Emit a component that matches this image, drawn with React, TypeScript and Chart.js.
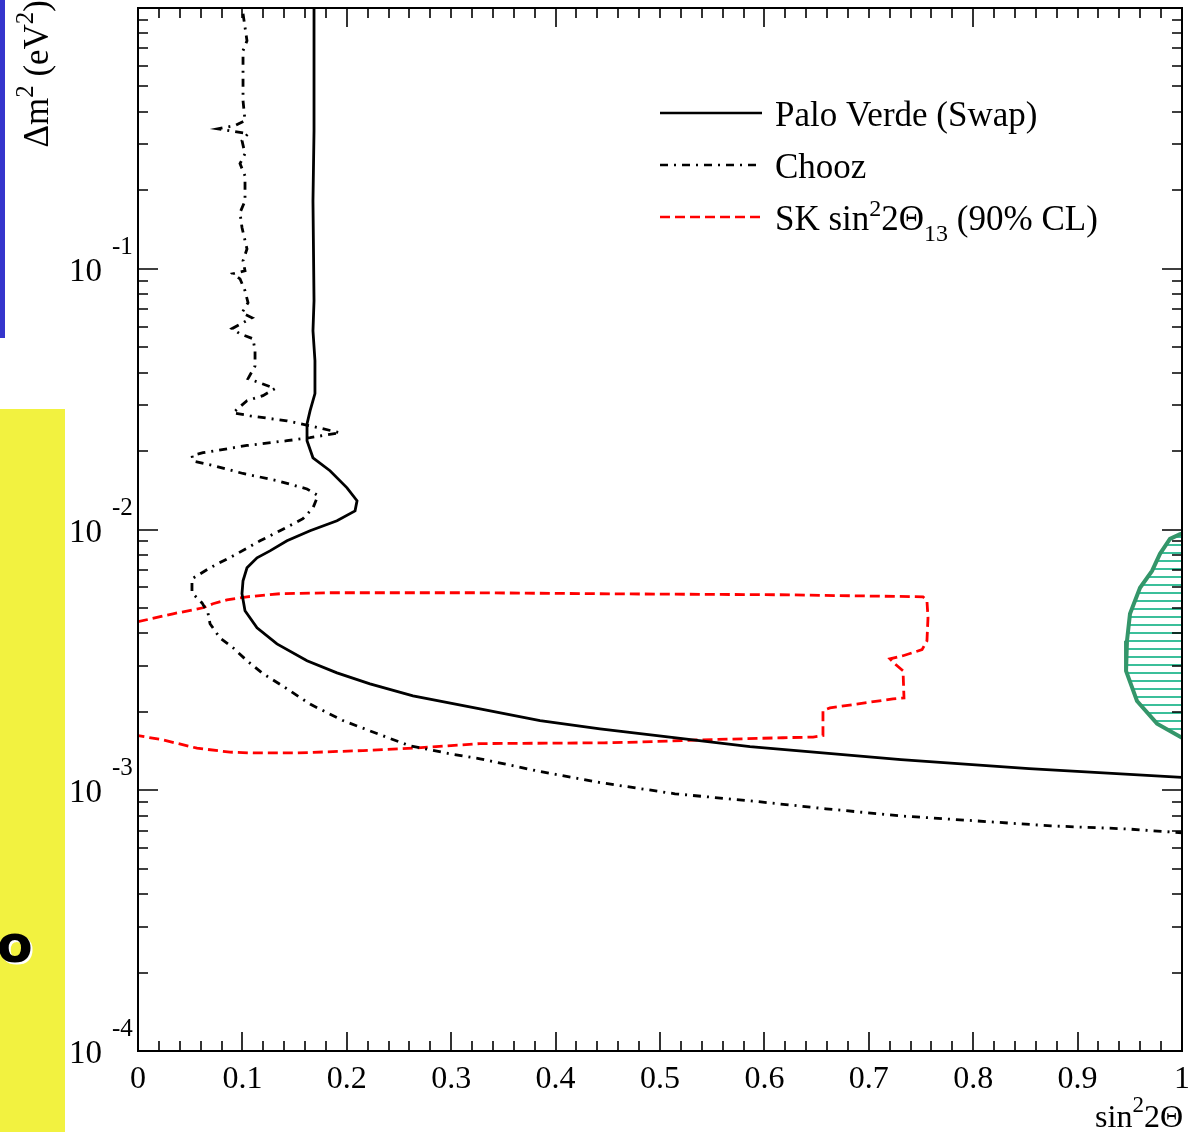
import React, { useEffect, useRef } from 'react';
import { Chart, registerables } from 'chart.js';

Chart.register(...registerables);

// ---------- data (sin^2 2Θ, Δm^2 in eV^2) ----------
const PALO_VERDE_X = [0.1686, 0.1686, 0.1676, 0.1686, 0.1676, 0.1695, 0.1695, 0.1648, 0.1619, 0.1619, 0.1676, 0.1839, 0.2002, 0.2098, 0.2079, 0.1906, 0.1648, 0.1427, 0.1264, 0.114, 0.1044, 0.1006, 0.0996, 0.1025, 0.114, 0.1331, 0.1619, 0.1906, 0.2222, 0.2634, 0.3276, 0.3851, 0.4425, 0.5862, 0.7308, 0.8535, 1.0];
const PALO_VERDE_Y = [1.0, 0.338, 0.182, 0.0754, 0.0578, 0.0444, 0.0332, 0.0285, 0.0254, 0.0219, 0.01884, 0.0168, 0.01445, 0.01289, 0.01179, 0.0108, 0.00989, 0.00905, 0.00828, 0.00779, 0.00713, 0.00636, 0.00567, 0.00488, 0.0042, 0.00364, 0.00314, 0.00282, 0.00256, 0.0023, 0.00205, 0.00185, 0.00172, 0.00147, 0.00131, 0.00121, 0.00112];

const CHOOZ_X = [0.1006, 0.1044, 0.1006, 0.1006, 0.1025, 0.0929, 0.0766, 0.1054, 0.0996, 0.1025, 0.0977, 0.1025, 0.1025, 0.0977, 0.0996, 0.1044, 0.1006, 0.1025, 0.091, 0.0977, 0.1025, 0.1054, 0.0996, 0.1092, 0.09, 0.0977, 0.1102, 0.1121, 0.1121, 0.1054, 0.1169, 0.1312, 0.1197, 0.1044, 0.091, 0.1073, 0.1427, 0.1648, 0.1935, 0.1648, 0.1427, 0.1044, 0.0623, 0.0517, 0.0527, 0.0718, 0.1006, 0.1331, 0.1619, 0.1724, 0.1676, 0.158, 0.136, 0.1169, 0.0948, 0.069, 0.0517, 0.0517, 0.0613, 0.067, 0.069, 0.0785, 0.091, 0.1044, 0.1197, 0.1427, 0.1648, 0.1964, 0.2289, 0.2605, 0.2989, 0.3276, 0.3851, 0.4425, 0.5144, 0.5862, 0.659, 0.7308, 0.8027, 0.8745, 0.9464, 1.0];
const CHOOZ_Y = [0.951, 0.749, 0.686, 0.441, 0.37, 0.354, 0.344, 0.33, 0.31, 0.276, 0.253, 0.227, 0.182, 0.164, 0.144, 0.119, 0.1073, 0.0982, 0.0957, 0.0915, 0.0823, 0.0741, 0.0678, 0.0649, 0.0589, 0.0563, 0.0539, 0.0485, 0.0424, 0.0379, 0.0365, 0.0347, 0.0326, 0.0312, 0.028, 0.0273, 0.0261, 0.025, 0.0235, 0.0225, 0.0219, 0.021, 0.0197, 0.0192, 0.0183, 0.0176, 0.0164, 0.0154, 0.0143, 0.0135, 0.0121, 0.011, 0.00989, 0.00905, 0.00807, 0.00713, 0.00647, 0.00572, 0.00523, 0.00479, 0.00435, 0.00384, 0.00352, 0.00314, 0.0028, 0.00245, 0.00214, 0.00185, 0.00165, 0.00148, 0.00138, 0.00132, 0.00118, 0.00107, 0.000969, 0.000911, 0.000849, 0.000797, 0.000763, 0.00073, 0.000711, 0.000687];

const SK_X = [0, 0.0335, 0.0623, 0.0718, 0.0852, 0.1044, 0.136, 0.1839, 0.2481, 0.3247, 0.4425, 0.6149, 0.7519, 0.7557, 0.7567, 0.7557, 0.751, 0.7328, 0.7203, 0.7251, 0.7328, 0.7337, 0.7232, 0.6628, 0.6561, 0.6561, 0.6466, 0.6178, 0.5383, 0.4789, 0.4464, 0.3276, 0.2634, 0.2155, 0.1523, 0.1102, 0.0881, 0.0565, 0.0239, 0];
const SK_Y = [0.00443, 0.00475, 0.00501, 0.00519, 0.00537, 0.00552, 0.00567, 0.00572, 0.00572, 0.00572, 0.00567, 0.00562, 0.00552, 0.00533, 0.00459, 0.00374, 0.00346, 0.00328, 0.00319, 0.00305, 0.00287, 0.00226, 0.00224, 0.00207, 0.00202, 0.00162, 0.0016, 0.00159, 0.00156, 0.00153, 0.00152, 0.00151, 0.00145, 0.00142, 0.00139, 0.00139, 0.0014, 0.00145, 0.00156, 0.00162];

const ALLOWED_X = [1.0, 0.9981, 0.9885, 0.9789, 0.9713, 0.9598, 0.9502, 0.9473, 0.9464, 0.9569, 0.9761, 1.0];
const ALLOWED_Y = [0.00963, 0.0096, 0.00921, 0.00807, 0.00694, 0.00598, 0.00475, 0.00374, 0.00287, 0.0022, 0.0018, 0.00159];

const X_TICK_VALUES = [0, 0.1, 0.2, 0.3, 0.4, 0.5, 0.6, 0.7, 0.8, 0.9, 1];
const X_TICK_LABELS = ['0', '0.1', '0.2', '0.3', '0.4', '0.5', '0.6', '0.7', '0.8', '0.9', '1'];
const Y_DECADE_VALUES = [1e-1, 1e-2, 1e-3, 1e-4];
const Y_DECADE_EXPONENTS = ['-1', '-2', '-3', '-4'];

const LEGEND_NAMES = ['Palo Verde (Swap)', 'Chooz', 'SK'];

const SERIF = "'Liberation Serif', 'Times New Roman', Times, serif";
const DASH_CHOOZ = [8, 6, 2, 6];
const DASH_SK = [10, 5];

const zip = (xs: number[], ys: number[]) => xs.map((x, i) => ({ x, y: ys[i] }));

type Part = { t: string; size: number; dy?: number };

function drawRich(ctx: CanvasRenderingContext2D, parts: Part[], x: number, y: number, align: 'left' | 'right' | 'center') {
  const widths = parts.map((p) => {
    ctx.font = `${p.size}px ${SERIF}`;
    return ctx.measureText(p.t).width;
  });
  const total = widths.reduce((a, b) => a + b, 0);
  let cx = align === 'right' ? x - total : align === 'center' ? x - total / 2 : x;
  ctx.textAlign = 'left';
  ctx.textBaseline = 'alphabetic';
  parts.forEach((p, i) => {
    ctx.font = `${p.size}px ${SERIF}`;
    ctx.fillText(p.t, cx, y + (p.dy || 0));
    cx += widths[i];
  });
}

const framePlugin = {
  id: 'rootFrame',
  afterDraw(chart: any) {
    const ctx: CanvasRenderingContext2D = chart.ctx;
    const { left, right, top, bottom } = chart.chartArea;
    const xs = chart.scales.x;
    const ys = chart.scales.y;
    ctx.save();
    ctx.fillStyle = '#000';
    ctx.strokeStyle = '#000';
    ctx.setLineDash([]);

    // frame
    ctx.lineWidth = 2;
    ctx.strokeRect(left, top, right - left, bottom - top);

    // x ticks (bottom: major 0.1, top: major 0.2, minor 0.02)
    ctx.lineWidth = 1.6;
    ctx.beginPath();
    for (let i = 0; i <= 50; i++) {
      const px = Math.round(xs.getPixelForValue(i * 0.02));
      const lb = i % 5 === 0 ? 19 : 10;
      const lt = i % 10 === 0 ? 19 : 10;
      ctx.moveTo(px, bottom);
      ctx.lineTo(px, bottom - lb);
      ctx.moveTo(px, top);
      ctx.lineTo(px, top + lt);
    }
    // y ticks (log)
    for (let e = -4; e <= -1; e++) {
      for (let m = 1; m <= 9; m++) {
        const v = m * Math.pow(10, e);
        const py = Math.round(ys.getPixelForValue(v));
        const len = m === 1 ? 20 : 10;
        ctx.moveTo(left, py);
        ctx.lineTo(left + len, py);
        ctx.moveTo(right, py);
        ctx.lineTo(right - len, py);
      }
    }
    ctx.stroke();

    // x tick labels
    ctx.font = `32px ${SERIF}`;
    ctx.textAlign = 'center';
    ctx.textBaseline = 'alphabetic';
    X_TICK_VALUES.forEach((v, i) => {
      ctx.fillText(X_TICK_LABELS[i], xs.getPixelForValue(v), 1088);
    });

    // y tick labels
    Y_DECADE_VALUES.forEach((v, i) => {
      const py = ys.getPixelForValue(v);
      ctx.font = `33px ${SERIF}`;
      ctx.textAlign = 'right';
      ctx.fillText('10', 102, py + 12);
      ctx.font = `25px ${SERIF}`;
      ctx.textAlign = 'left';
      ctx.fillText(Y_DECADE_EXPONENTS[i], 112, py - 15);
    });

    // x axis title
    drawRich(ctx, [
      { t: 'sin', size: 32 },
      { t: '2', size: 23, dy: -15 },
      { t: '2\u0398', size: 32 },
    ], 1183, 1127, 'right');

    // y axis title (rotated)
    ctx.save();
    ctx.translate(48, 0);
    ctx.rotate(-Math.PI / 2);
    drawRich(ctx, [
      { t: '\u0394m', size: 35 },
      { t: '2', size: 25, dy: -15 },
      { t: ' (eV', size: 35 },
      { t: '2', size: 25, dy: -15 },
      { t: ')', size: 35 },
    ], 0, 0, 'right');
    ctx.restore();

    // legend
    const lx0 = 660, lx1 = 762, tx = 775;
    const rows = [113, 165, 217];
    const styles = [
      { color: '#000', dash: [] as number[] },
      { color: '#000', dash: DASH_CHOOZ },
      { color: '#ff0000', dash: DASH_SK },
    ];
    styles.forEach((s, i) => {
      ctx.beginPath();
      ctx.strokeStyle = s.color;
      ctx.lineWidth = 2.5;
      ctx.setLineDash(s.dash);
      ctx.moveTo(lx0, rows[i]);
      ctx.lineTo(lx1, rows[i]);
      ctx.stroke();
    });
    ctx.setLineDash([]);
    ctx.fillStyle = '#000';
    drawRich(ctx, [{ t: LEGEND_NAMES[0], size: 35 }], tx, rows[0] + 13, 'left');
    drawRich(ctx, [{ t: LEGEND_NAMES[1], size: 35 }], tx, rows[1] + 13, 'left');
    drawRich(ctx, [
      { t: LEGEND_NAMES[2] + ' sin', size: 35 },
      { t: '2', size: 24, dy: -14 },
      { t: '2\u0398', size: 35 },
      { t: '13', size: 24, dy: 11 },
      { t: ' (90% CL)', size: 35 },
    ], tx, rows[2] + 13, 'left');

    ctx.restore();
  },
};

export default function App() {
  const canvasRef = useRef<HTMLCanvasElement | null>(null);

  useEffect(() => {
    const canvas = canvasRef.current;
    if (!canvas) return;
    const ctx = canvas.getContext('2d')!;

    const pc = document.createElement('canvas');
    pc.width = 8;
    pc.height = 8;
    const pctx = pc.getContext('2d')!;
    pctx.strokeStyle = '#3bbf9a';
    pctx.lineWidth = 2;
    pctx.beginPath();
    pctx.moveTo(0, 1);
    pctx.lineTo(8, 1);
    pctx.stroke();
    const hatch = ctx.createPattern(pc, 'repeat');

    const chart = new Chart(ctx, {
      type: 'scatter',
      data: {
        datasets: [
          {
            label: 'Palo Verde (Swap)',
            data: zip(PALO_VERDE_X, PALO_VERDE_Y),
            showLine: true,
            borderColor: '#000',
            borderWidth: 2.8,
            pointRadius: 0,
            fill: false,
          },
          {
            label: 'Chooz',
            data: zip(CHOOZ_X, CHOOZ_Y),
            showLine: true,
            borderColor: '#000',
            borderWidth: 2.8,
            borderDash: DASH_CHOOZ,
            pointRadius: 0,
            fill: false,
          },
          {
            label: 'SK',
            data: zip(SK_X, SK_Y),
            showLine: true,
            borderColor: '#ff0000',
            borderWidth: 2.8,
            borderDash: DASH_SK,
            pointRadius: 0,
            fill: false,
          },
          {
            label: 'allowed',
            data: zip(ALLOWED_X, ALLOWED_Y),
            showLine: true,
            borderColor: '#34966a',
            borderWidth: 4,
            backgroundColor: hatch as any,
            pointRadius: 0,
            fill: 'shape',
          },
        ],
      },
      options: {
        animation: false,
        responsive: false,
        devicePixelRatio: 1,
        layout: { padding: { left: 138, right: 6, top: 8, bottom: 81 } },
        plugins: { legend: { display: false }, tooltip: { enabled: false } },
        scales: {
          x: { type: 'linear', min: 0, max: 1, display: false },
          y: { type: 'logarithmic', min: 1e-4, max: 1, display: false },
        },
        elements: { line: { tension: 0 }, point: { radius: 0 } },
      },
      plugins: [framePlugin],
    } as any);

    return () => chart.destroy();
  }, []);

  return (
    <div style={{ position: 'absolute', left: 0, top: 0, width: 1188, height: 1132, overflow: 'hidden', background: '#fff' }}>
      <div style={{ position: 'absolute', left: 0, top: 0, width: 5, height: 338, background: '#3535cc' }} />
      <div style={{ position: 'absolute', left: 0, top: 409, width: 65, height: 723, background: '#f2f240' }} />
      <div
        style={{
          position: 'absolute',
          left: -3,
          top: 914,
          fontFamily: "'DejaVu Sans', sans-serif",
          fontWeight: 'bold',
          fontSize: 52,
          lineHeight: '60px',
          color: '#000',
          textShadow: '2px 2px 0 #fff',
        }}
      >
        o
      </div>
      <canvas ref={canvasRef} width={1188} height={1132} style={{ position: 'absolute', left: 0, top: 0, width: 1188, height: 1132 }} />
    </div>
  );
}
